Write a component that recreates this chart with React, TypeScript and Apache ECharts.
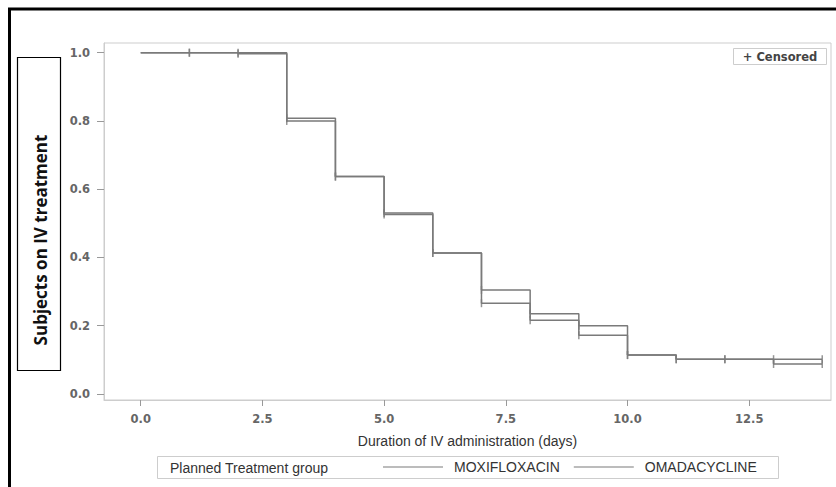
import React, { useEffect, useRef } from "react";
import * as echarts from "echarts";

// ---- data ----
const days = [0, 1, 2, 3, 4, 5, 6, 7, 8, 9, 10, 11, 12, 13, 14];
const moxifloxacinSurvival = [1.0, 1.0, 1.0, 0.808, 0.637, 0.53, 0.413, 0.305, 0.235, 0.2, 0.114, 0.102, 0.102, 0.102, 0.102];
const omadacyclineSurvival = [1.0, 1.0, 0.997, 0.8, 0.637, 0.526, 0.413, 0.266, 0.216, 0.172, 0.114, 0.102, 0.102, 0.088, 0.088];
const moxifloxacinCensored = [1, 2, 3, 4, 5, 6, 7, 8, 9, 10, 11, 12, 13, 14];
const omadacyclineCensored = [1, 2, 3, 4, 5, 6, 7, 8, 9, 10, 11, 12, 13, 14];
const xTicks = [0, 2.5, 5, 7.5, 10, 12.5];
const yTicks = [0, 0.2, 0.4, 0.6, 0.8, 1.0];
const seriesNames = ["MOXIFLOXACIN", "OMADACYCLINE"];

const LINE = "#7a7a7a";
const FRAME = "#cdcdcd";
const TICK_FONT = "'DejaVu Sans', sans-serif";
const TEXT_FONT = "'Liberation Sans', Arial, sans-serif";

function curve(vals: number[]) {
  return days.map((d, i) => [d, vals[i]]);
}
function censorPoints(cdays: number[], vals: number[]) {
  return cdays.map((d) => [d, vals[days.indexOf(d)]]);
}

export default function App() {
  const ref = useRef<HTMLDivElement>(null);
  useEffect(() => {
    if (!ref.current) return;
    const chart = echarts.init(ref.current, null, { renderer: "svg" });
    const survivals = [moxifloxacinSurvival, omadacyclineSurvival];
    const censors = [moxifloxacinCensored, omadacyclineCensored];
    const lineSeries = seriesNames.map((name, k) => ({
      name,
      type: "line",
      step: "end",
      data: curve(survivals[k]),
      showSymbol: false,
      symbol: "none",
      color: LINE,
      lineStyle: { color: LINE, width: 1.5 },
      z: 3,
    }));
    const censorSeries = seriesNames.map((name, k) => ({
      name: name + " censored",
      type: "scatter",
      data: censorPoints(censors[k], survivals[k]),
      symbol: "rect",
      symbolSize: [1.5, 8],
      itemStyle: { color: LINE },
      z: 4,
    }));
    chart.setOption({
      animation: false,
      backgroundColor: "#ffffff",
      grid: {
        left: 104,
        top: 43,
        right: 5,
        bottom: 87,
        show: true,
        borderColor: FRAME,
        borderWidth: 1,
        backgroundColor: "transparent",
      },
      xAxis: {
        type: "value",
        min: -0.754,
        max: 14.18,
        name: "Duration of IV administration (days)",
        nameLocation: "middle",
        nameGap: 34,
        nameTextStyle: { fontFamily: TEXT_FONT, fontSize: 14, color: "#333" },
        axisLine: { show: true, onZero: false, lineStyle: { color: FRAME } },
        axisTick: { show: true, length: 6, lineStyle: { color: "#999" }, customValues: xTicks },
        axisLabel: {
          customValues: xTicks,
          margin: 13,
          fontFamily: TICK_FONT,
          fontWeight: "bold",
          fontSize: 11.5,
          color: "#666",
          formatter: (v: number) => v.toFixed(1),
        },
        splitLine: { show: false },
      },
      yAxis: {
        type: "value",
        min: -0.0176,
        max: 1.0284,
        axisLine: { show: true, onZero: false, lineStyle: { color: FRAME } },
        axisTick: { show: true, length: 7, lineStyle: { color: "#999" }, customValues: yTicks },
        axisLabel: {
          customValues: yTicks,
          margin: 14,
          fontFamily: TICK_FONT,
          fontWeight: "bold",
          fontSize: 11.5,
          color: "#666",
          formatter: (v: number) => v.toFixed(1),
        },
        splitLine: { show: false },
      },
      legend: {
        data: seriesNames,
        left: 383,
        top: 460,
        padding: 0,
        icon: "rect",
        itemWidth: 60,
        itemHeight: 1,
        itemGap: 14,
        selectedMode: false,
        textStyle: { fontFamily: TEXT_FONT, fontSize: 14, color: "#333", padding: [0, 0, 0, 6] },
      },
      graphic: [
        {
          type: "rect",
          z: -1,
          shape: { x: 9.5, y: 9, width: 1000, height: 1000 },
          style: { fill: "none", stroke: "#000", lineWidth: 3 },
          silent: true,
        },
        {
          type: "rect",
          z: -1,
          shape: { x: 157.5, y: 456.5, width: 621, height: 22 },
          style: { fill: "#fff", stroke: FRAME, lineWidth: 1 },
          silent: true,
        },
        {
          type: "text",
          x: 170,
          y: 467.5,
          style: {
            text: "Planned Treatment group",
            fontFamily: TEXT_FONT,
            fontSize: 14,
            fill: "#333",
            align: "left",
            verticalAlign: "middle",
          },
          silent: true,
        },
        {
          type: "rect",
          shape: { x: 733.5, y: 48.5, width: 93, height: 16 },
          style: { fill: "#fff", stroke: FRAME, lineWidth: 1 },
          silent: true,
        },
        {
          type: "text",
          x: 780,
          y: 56.5,
          style: {
            text: "+ Censored",
            fontFamily: TICK_FONT,
            fontWeight: "bold",
            fontSize: 11.5,
            fill: "#444",
            align: "center",
            verticalAlign: "middle",
          },
          silent: true,
        },
        {
          type: "rect",
          shape: { x: 17.5, y: 57.5, width: 43, height: 313 },
          style: { fill: "#fff", stroke: "#000", lineWidth: 1.2 },
          silent: true,
        },
        {
          type: "text",
          x: 40,
          y: 240,
          rotation: Math.PI / 2,
          style: {
            text: "Subjects on IV treatment",
            fontFamily: "'Open Sans', 'Noto Sans', sans-serif",
            fontWeight: "bold",
            fontSize: 17,
            fill: "#111",
            align: "center",
            verticalAlign: "middle",
          },
          silent: true,
        },
      ],
      series: [...lineSeries, ...censorSeries],
    });
    return () => chart.dispose();
  }, []);
  return (
    <div
      ref={ref}
      style={{ position: "absolute", left: 0, top: 0, width: 836, height: 487 }}
    />
  );
}
